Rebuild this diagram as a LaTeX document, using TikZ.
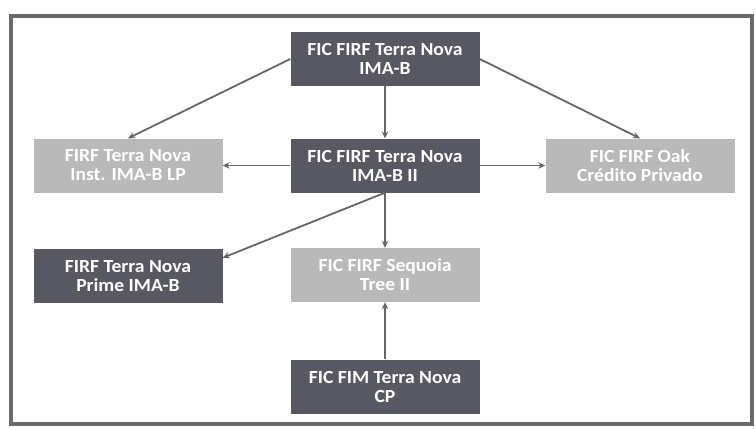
\documentclass[tikz,border=0pt]{standalone}
\usepackage{fontspec}
\setmainfont{Carlito}[FakeStretch=1.06]
\usetikzlibrary{arrows.meta,calc}
\definecolor{darkbox}{HTML}{585863}
\definecolor{lightbox}{HTML}{B9B9B9}
\definecolor{framecol}{HTML}{6A6A6E}
\definecolor{arrowcol}{HTML}{66666A}
\tikzset{
  fund/.style={rectangle, minimum width=189pt, minimum height=54pt, inner sep=0pt,
    align=center, text=white, font=\fontsize{18.5}{19}\selectfont\bfseries},
  darkfund/.style={fund, fill=darkbox},
  lightfund/.style={fund, fill=lightbox},
  link/.style={draw=arrowcol, line width=1.8pt, -{Stealth[length=7pt,width=6.5pt]}}
}
\begin{document}
\begin{tikzpicture}[x=1pt,y=-1pt]
\useasboundingbox (0,0) rectangle (756,429);
\fill[white] (0,0) rectangle (756,429);
\draw[framecol, line width=4.5pt] (11,16) rectangle (752,424);
\node[darkfund]  (top)     at (385,59)  {FIC FIRF Terra Nova\\IMA-B};
\node[lightfund] (inst)    at (128,165.5) {FIRF Terra Nova\\Inst. IMA-B LP};
\node[darkfund]  (mid)     at (385,165.5) {FIC FIRF Terra Nova\\IMA-B II};
\node[lightfund] (oak)     at (640,165.5) {FIC FIRF Oak\\Crédito Privado};
\node[darkfund]  (prime)   at (128,276) {FIRF Terra Nova\\Prime IMA-B};
\node[lightfund] (sequoia) at (385,275) {FIC FIRF Sequoia\\Tree II};
\node[darkfund]  (cp)      at (385,386.5) {FIC FIM Terra Nova\\CP};
\draw[link] (top.west) -- (inst.north);
\draw[link] (top.east) -- (oak.north);
\draw[link] (top.south) -- (mid.north);
\draw[link] (mid.west) -- (inst.east);
\draw[link] (mid.east) -- (oak.west);
\coordinate (primein) at ($(prime.north east)+(0,9)$);
\draw[link] (mid.south) -- (primein);
\draw[link] (mid.south) -- (sequoia.north);
\draw[link] (cp.north) -- (sequoia.south);
\end{tikzpicture}
\end{document}
